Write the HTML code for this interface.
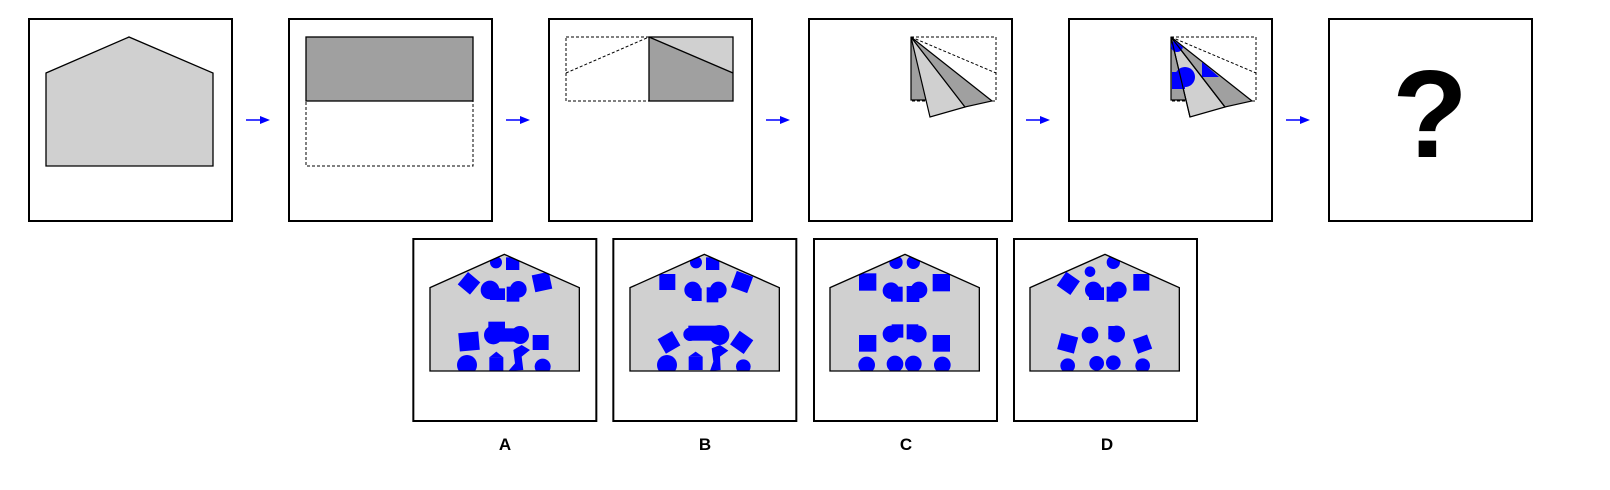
<!DOCTYPE html>
<html><head><meta charset="utf-8"><style>
html,body{margin:0;padding:0;background:#fff;}
svg{display:block;}
text{font-family:"Liberation Sans",sans-serif;font-weight:bold;}
</style></head><body>
<svg width="1610" height="490" viewBox="0 0 1610 490">
<defs>
<clipPath id="cA"><polygon points="90,173 313,73 538,173 538,423 90,423"/></clipPath>
<clipPath id="cB"><polygon points="690,173 913,73 1138,173 1138,423 690,423"/></clipPath>
<clipPath id="cC"><polygon points="135,173 360,73 583,173 583,423 135,423"/></clipPath>
<clipPath id="cD"><polygon points="735,173 960,73 1183,173 1183,423 735,423"/></clipPath>
<clipPath id="c5"><polygon points="1171,38 1171,101 1187,101 1190,117 1225,107 1252,101"/></clipPath>
</defs>

<!-- top row boxes -->
<g>
<rect x="29" y="19" width="203" height="202" fill="#fff" stroke="#000" stroke-width="2"/>
<polygon points="46,73 129,37 213,73 213,166 46,166" fill="#d0d0d0" stroke="#000" stroke-width="1.3"/>
</g>
<g>
<rect x="289" y="19" width="203" height="202" fill="#fff" stroke="#000" stroke-width="2"/>
<rect x="306" y="37" width="167" height="64" fill="#a0a0a0" stroke="#000" stroke-width="1.3"/>
<rect x="306" y="101" width="167" height="65" fill="none" stroke="#000" stroke-width="1" stroke-dasharray="3,2"/>
</g>
<g>
<rect x="549" y="19" width="203" height="202" fill="#fff" stroke="#000" stroke-width="2"/>
<rect x="566" y="37" width="83" height="64" fill="none" stroke="#000" stroke-width="1" stroke-dasharray="3,2"/>
<line x1="566" y1="73" x2="649" y2="37" stroke="#000" stroke-width="1" stroke-dasharray="3,2"/>
<polygon points="649,37 733,37 733,73" fill="#d0d0d0"/>
<polygon points="649,37 733,73 733,101 649,101" fill="#a0a0a0"/>
<rect x="649" y="37" width="84" height="64" fill="none" stroke="#000" stroke-width="1.3"/>
<line x1="649" y1="37" x2="733" y2="73" stroke="#000" stroke-width="1.3"/>
</g>
<g>
<rect x="809" y="19" width="203" height="202" fill="#fff" stroke="#000" stroke-width="2"/>
<rect x="911" y="37" width="85" height="64" fill="none" stroke="#000" stroke-width="1" stroke-dasharray="3,2"/>
<line x1="911" y1="37" x2="996" y2="73" stroke="#000" stroke-width="1" stroke-dasharray="3,2"/>
<polygon points="911,37 911,100 927,100" fill="#a0a0a0" stroke="#000" stroke-width="1.2"/>
<polygon points="911,37 930,117 965,107" fill="#d0d0d0" stroke="#000" stroke-width="1.2"/>
<polygon points="911,37 965,107 992,101" fill="#a0a0a0" stroke="#000" stroke-width="1.2"/>
</g>
<g>
<rect x="1069" y="19" width="203" height="202" fill="#fff" stroke="#000" stroke-width="2"/>
<rect x="1171" y="37" width="85" height="64" fill="none" stroke="#000" stroke-width="1" stroke-dasharray="3,2"/>
<line x1="1171" y1="37" x2="1256" y2="73" stroke="#000" stroke-width="1" stroke-dasharray="3,2"/>
<polygon points="1171,37 1171,100 1187,100" fill="#a0a0a0" stroke="#000" stroke-width="1.2"/>
<polygon points="1171,37 1190,117 1225,107" fill="#d0d0d0" stroke="#000" stroke-width="1.2"/>
<polygon points="1171,37 1225,107 1252,101" fill="#a0a0a0" stroke="#000" stroke-width="1.2"/>
<g clip-path="url(#c5)" fill="#0000ff">
<circle cx="1177" cy="46" r="6"/>
<circle cx="1185" cy="77" r="10"/>
<rect x="1172" y="72" width="13" height="17"/>
<polygon points="1202,62 1219,77 1202,77"/>
</g>
<line x1="1171" y1="37" x2="1190" y2="117" stroke="#000" stroke-width="1.2"/>
<line x1="1171" y1="37" x2="1225" y2="107" stroke="#000" stroke-width="1.2"/>
</g>
<g>
<rect x="1329" y="19" width="203" height="202" fill="#fff" stroke="#000" stroke-width="2"/>
<text x="1430" y="157" font-size="124" text-anchor="middle">?</text>
</g>

<!-- arrows -->
<g fill="#0000ff" stroke="#0000ff">
<g><line x1="246" y1="120" x2="262" y2="120" stroke-width="1.5"/><polygon points="260,116 270,120 260,124" stroke="none"/></g>
<g><line x1="506" y1="120" x2="522" y2="120" stroke-width="1.5"/><polygon points="520,116 530,120 520,124" stroke="none"/></g>
<g><line x1="766" y1="120" x2="782" y2="120" stroke-width="1.5"/><polygon points="780,116 790,120 780,124" stroke="none"/></g>
<g><line x1="1026" y1="120" x2="1042" y2="120" stroke-width="1.5"/><polygon points="1040,116 1050,120 1040,124" stroke="none"/></g>
<g><line x1="1286" y1="120" x2="1302" y2="120" stroke-width="1.5"/><polygon points="1300,116 1310,120 1300,124" stroke="none"/></g>
</g>

<!-- options A, B (zoom-1 coordinates) -->
<g transform="translate(400,230) scale(0.33333)">
<g>
<rect x="40" y="27" width="549" height="546" fill="#fff" stroke="#000" stroke-width="6"/>
<polygon points="90,173 313,73 538,173 538,423 90,423" fill="#d0d0d0"/>
<g clip-path="url(#cA)" fill="#0000ff">
<circle cx="288" cy="97" r="18"/><rect x="318" y="82" width="40" height="38"/>
<rect x="183" y="136" width="48" height="48" transform="rotate(40 207 160)"/>
<circle cx="270" cy="180" r="28"/><rect x="270" y="175" width="45" height="35"/>
<circle cx="355" cy="178" r="25"/><rect x="320" y="170" width="38" height="45"/>
<rect x="400" y="130" width="52" height="52" transform="rotate(-12 426 156)"/>
<rect x="177" y="307" width="60" height="55" transform="rotate(-5 207 334)"/>
<circle cx="280" cy="315" r="28"/><rect x="265" y="275" width="50" height="35"/><rect x="280" y="295" width="80" height="40"/><circle cx="360" cy="315" r="27"/>
<rect x="398" y="315" width="48" height="45"/>
<circle cx="201" cy="405" r="30"/>
<rect x="268" y="382" width="42" height="40"/><polygon points="268,382 289,365 310,382"/>
<polygon points="340,360 365,345 390,360 365,380 370,420 325,423 345,400"/>
<circle cx="428" cy="410" r="24"/>
</g>
<polygon points="90,173 313,73 538,173 538,423 90,423" fill="none" stroke="#000" stroke-width="4"/>
</g>
<g>
<rect x="640" y="27" width="549" height="546" fill="#fff" stroke="#000" stroke-width="6"/>
<polygon points="690,173 913,73 1138,173 1138,423 690,423" fill="#d0d0d0"/>
<g clip-path="url(#cB)" fill="#0000ff">
<circle cx="888" cy="97" r="18"/><rect x="918" y="82" width="40" height="38"/>
<rect x="778" y="132" width="48" height="48"/>
<circle cx="878" cy="180" r="25"/><rect x="875" y="175" width="30" height="38"/>
<circle cx="955" cy="180" r="25"/><rect x="920" y="172" width="35" height="45"/>
<rect x="1000" y="130" width="52" height="52" transform="rotate(20 1026 156)"/>
<rect x="782" y="312" width="50" height="50" transform="rotate(-30 807 337)"/>
<rect x="865" y="287" width="90" height="45"/><circle cx="870" cy="313" r="20"/><circle cx="958" cy="315" r="30"/>
<rect x="1000" y="312" width="50" height="50" transform="rotate(35 1025 337)"/>
<circle cx="801" cy="405" r="30"/>
<rect x="866" y="380" width="42" height="40"/><polygon points="866,380 887,365 908,380"/>
<polygon points="935,355 960,345 985,362 960,380 962,420 930,423 940,395"/>
<circle cx="1030" cy="410" r="22"/>
</g>
<polygon points="690,173 913,73 1138,173 1138,423 690,423" fill="none" stroke="#000" stroke-width="4"/>
</g>
</g>

<!-- options C, D (zoom-2 coordinates) -->
<g transform="translate(785,230) scale(0.33333)">
<g>
<rect x="87" y="27" width="549" height="546" fill="#fff" stroke="#000" stroke-width="6"/>
<polygon points="135,173 360,73 583,173 583,423 135,423" fill="#d0d0d0"/>
<g clip-path="url(#cC)" fill="#0000ff">
<circle cx="333" cy="97" r="20"/><circle cx="385" cy="97" r="20"/>
<rect x="222" y="130" width="52" height="52"/>
<circle cx="318" cy="182" r="25"/><rect x="318" y="170" width="35" height="45"/>
<circle cx="402" cy="180" r="25"/><rect x="365" y="168" width="38" height="48"/>
<rect x="443" y="132" width="52" height="52"/>
<rect x="222" y="315" width="52" height="50"/>
<circle cx="318" cy="312" r="25"/><rect x="320" y="283" width="35" height="40"/>
<circle cx="400" cy="312" r="25"/><rect x="365" y="283" width="35" height="45"/>
<rect x="443" y="315" width="52" height="50"/>
<circle cx="245" cy="405" r="25"/><circle cx="330" cy="402" r="25"/><circle cx="385" cy="402" r="25"/><circle cx="472" cy="405" r="25"/>
</g>
<polygon points="135,173 360,73 583,173 583,423 135,423" fill="none" stroke="#000" stroke-width="4"/>
</g>
<g>
<rect x="687" y="27" width="549" height="546" fill="#fff" stroke="#000" stroke-width="6"/>
<polygon points="735,173 960,73 1183,173 1183,423 735,423" fill="#d0d0d0"/>
<g clip-path="url(#cD)" fill="#0000ff">
<circle cx="915" cy="125" r="16"/><circle cx="985" cy="97" r="20"/>
<rect x="825" y="135" width="50" height="50" transform="rotate(35 850 160)"/>
<circle cx="925" cy="180" r="25"/><rect x="912" y="172" width="45" height="38"/>
<circle cx="1000" cy="180" r="25"/><rect x="965" y="170" width="35" height="45"/>
<rect x="1045" y="132" width="48" height="50"/>
<rect x="822" y="315" width="52" height="50" transform="rotate(15 848 340)"/>
<circle cx="915" cy="315" r="25"/>
<circle cx="995" cy="312" r="25"/><rect x="970" y="288" width="30" height="40"/>
<rect x="1050" y="320" width="45" height="45" transform="rotate(-20 1072 342)"/>
<circle cx="848" cy="407" r="22"/><circle cx="935" cy="400" r="22"/><circle cx="985" cy="398" r="22"/><circle cx="1073" cy="407" r="22"/>
</g>
<polygon points="735,173 960,73 1183,173 1183,423 735,423" fill="none" stroke="#000" stroke-width="4"/>
</g>
</g>

<!-- labels -->
<text x="505" y="450" font-size="17" text-anchor="middle">A</text>
<text x="705" y="450" font-size="17" text-anchor="middle">B</text>
<text x="906" y="450" font-size="17" text-anchor="middle">C</text>
<text x="1107" y="450" font-size="17" text-anchor="middle">D</text>
</svg>
</body></html>
